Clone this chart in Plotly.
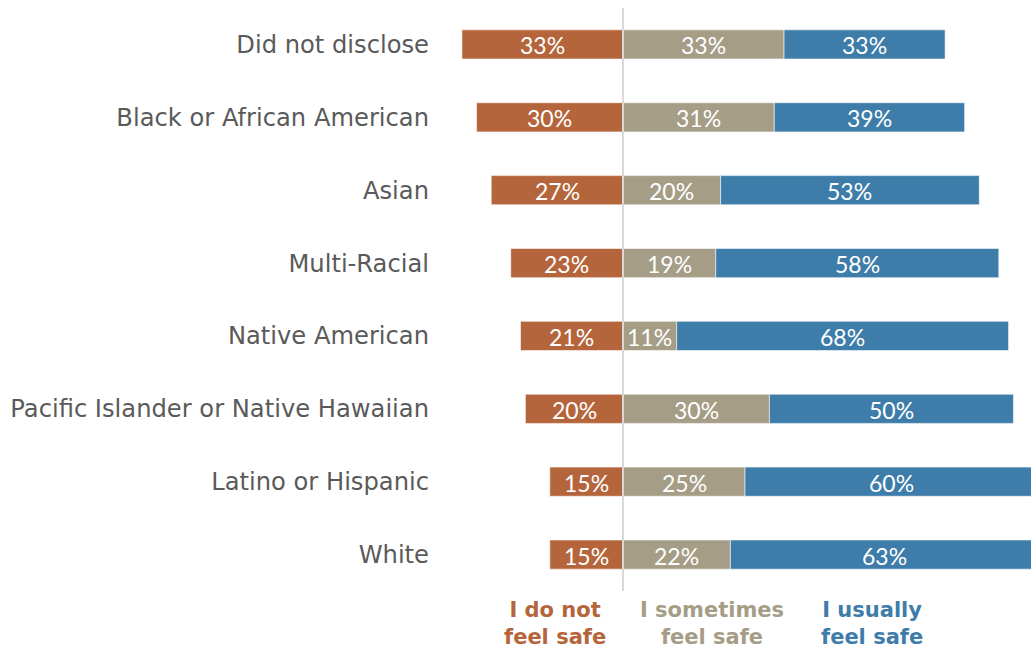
import plotly.graph_objects as go

# Survey responses by race/ethnicity (percent of respondents)
groups = [
    "Did not disclose",
    "Black or African American",
    "Asian",
    "Multi-Racial",
    "Native American",
    "Pacific Islander or Native Hawaiian",
    "Latino or Hispanic",
    "White",
]
not_safe = [33, 30, 27, 23, 21, 20, 15, 15]
sometimes_safe = [33, 31, 20, 19, 11, 30, 25, 22]
usually_safe = [33, 39, 53, 58, 68, 50, 60, 63]

ORANGE = "#B5653B"
GRAY = "#A59D86"
BLUE = "#3E7DA9"

label_font = dict(family="Lato", size=23, color="white")
edge = dict(color="rgba(255,255,255,0.55)", width=1)

fig = go.Figure()

# "Not safe" extends to the left of the zero line
segments = [
    ([-v for v in not_safe], ORANGE),
    (sometimes_safe, GRAY),
    (usually_safe, BLUE),
]
for values, color in segments:
    fig.add_trace(go.Bar(
        y=groups, x=values, orientation="h",
        marker=dict(color=color, line=edge),
        width=0.4, hoverinfo="skip",
    ))

# Percent labels centred on each segment (kept even where a bar runs off the edge)
centers = (
    [-v / 2 for v in not_safe]
    + [v / 2 for v in sometimes_safe]
    + [s + u / 2 for s, u in zip(sometimes_safe, usually_safe)]
)
labels = [f"{v}%" for v in not_safe + sometimes_safe + usually_safe]
for x, y, t in zip(centers, groups * 3, labels):
    fig.add_annotation(
        x=x, y=y, xref="x", yref="y", text=t, showarrow=False,
        xanchor="center", yanchor="middle", yshift=-1,
        font=label_font,
    )

fig.update_layout(
    width=1031, height=648, autosize=False,
    barmode="relative",
    margin=dict(l=440, r=0, t=8, b=57),
    plot_bgcolor="white", paper_bgcolor="white",
    showlegend=False,
    xaxis=dict(range=[-37.5, 83.6], visible=False, fixedrange=True),
    yaxis=dict(
        categoryorder="array", categoryarray=groups[::-1],
        showgrid=False, zeroline=False, showline=False, ticks="",
        ticklabelstandoff=10,
        tickfont=dict(family="DejaVu Sans", size=24.2, color="#5A5A5A"),
    ),
    shapes=[dict(
        type="line", xref="x", yref="paper", x0=0, x1=0, y0=0, y1=1,
        line=dict(color="#D9D9D9", width=2), layer="above",
    )],
)

legend_items = [
    ("I do not<br>feel safe", ORANGE, 0.1946),
    ("I sometimes<br>feel safe", GRAY, 0.460),
    ("I usually<br>feel safe", BLUE, 0.731),
]
for text, color, xp in legend_items:
    fig.add_annotation(
        text=f"<b>{text}</b>", xref="paper", yref="paper",
        x=xp, y=-0.055, xanchor="center", yanchor="middle",
        showarrow=False, align="center",
        font=dict(family="DejaVu Sans", size=21, color=color),
    )

fig.write_html("out.html")
